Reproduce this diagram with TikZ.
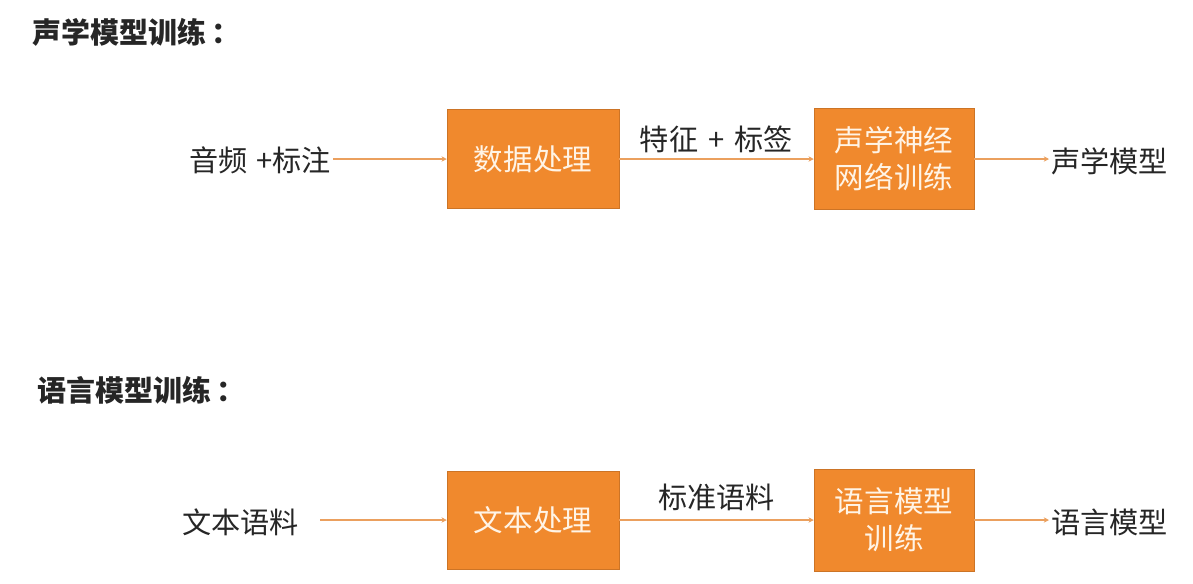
\documentclass[tikz,border=0pt]{standalone}
\usepackage{fontspec}
\setmainfont{Noto Sans CJK SC}
\usepackage{xcolor}
\usetikzlibrary{arrows.meta,positioning}
\definecolor{boxorange}{HTML}{F0892D}
\definecolor{lineorange}{HTML}{EBA05E}
\definecolor{inktext}{HTML}{262626}
\definecolor{boxtext}{HTML}{FFF4E6}
\tikzset{
  proc/.style={rectangle,fill=boxorange,draw=boxorange!85!black,line width=0.3pt,
    text=boxtext,align=center,font=\fontsize{16.8}{21}\selectfont,inner sep=0pt},
  plain/.style={text=inktext,font=\fontsize{16.6}{21}\selectfont,inner sep=1pt},
  heading/.style={text=inktext,font=\fontsize{16.5}{21}\selectfont\bfseries,anchor=west,inner sep=0pt},
  flow/.style={->,draw=lineorange,line width=0.8pt}
}

\begin{document}
\begin{tikzpicture}[x=0.02cm,y=-0.02cm,>={Stealth[length=3pt,width=3pt]}]
  \fill[white] (0,0) rectangle (1193,583);
  \useasboundingbox (0,0) rectangle (1193,583);
  % acoustic model
  \node[heading] (t1) at (32,32) {声学模型训练\,：};
  \node[plain,anchor=east] (in1) at (333,160) {音频\hspace{0.3em}+标注};
  \node[proc,minimum width=3.44cm,minimum height=1.98cm] (p1) at (533,159) {数据处理};
  \node[proc,minimum width=3.2cm,minimum height=2.02cm] (p2) at (894,159) {声学神经\\网络训练};
  \node[plain,anchor=west] (out1) at (1049,161) {声学模型};
  \draw[flow] (in1.east |- p1.west) -- (p1.west);
  \draw[flow] (p1.east) -- node[plain,above=3pt,inner sep=0pt]{特征\hspace{0.35em}+\hspace{0.35em}标签} (p2.west);
  \draw[flow] (p2.east) -- (out1.west |- p2.east);
  % language model
  \node[heading] (t2) at (37,390) {语言模型训练\,：};
  \node[plain,anchor=east] (in2) at (301,522) {文本语料};
  \node[proc,minimum width=3.44cm,minimum height=1.96cm] (p3) at (533,520) {文本处理};
  \node[proc,minimum width=3.2cm,minimum height=2.04cm] (p4) at (894,520) {语言模型\\训练};
  \node[plain,anchor=west] (out2) at (1049,522) {语言模型};
  \draw[flow,shorten <=0.38cm] (in2.east |- p3.west) -- (p3.west);
  \draw[flow] (p3.east) -- node[plain,above=5pt,inner sep=0pt]{标准语料} (p4.west);
  \draw[flow] (p4.east) -- (out2.west |- p4.east);
\end{tikzpicture}
\end{document}
